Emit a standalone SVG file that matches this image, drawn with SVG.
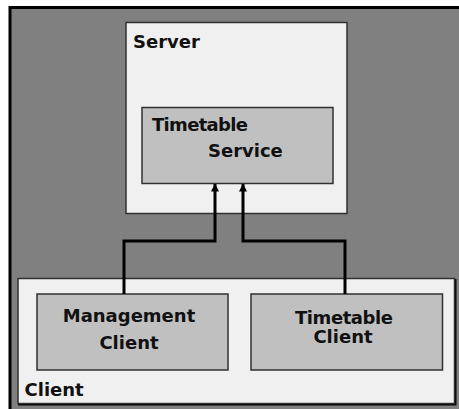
<svg xmlns="http://www.w3.org/2000/svg" width="459" height="409" viewBox="0 0 459 409">
  <defs>
    <style>
      .container { fill: #f0f0f0; stroke: #303030; stroke-width: 1.5; }
      .box { fill: #c0c0c0; stroke: #303030; stroke-width: 1.5; }
      .label { font-family: "DejaVu Sans", Verdana, sans-serif; font-weight: bold; font-size: 18px; fill: #111; }
      .mid { text-anchor: middle; }
      .conn { fill: none; stroke: #000; stroke-width: 3; }
    </style>
    <marker id="arrow" viewBox="0 0 8 8" refX="7.5" refY="4" markerUnits="userSpaceOnUse" markerWidth="8" markerHeight="8" orient="auto">
      <path d="M0,0 L8,4 L0,8 Z" fill="#000"/>
    </marker>
  </defs>
  <rect x="0" y="0" width="459" height="409" fill="#ffffff"/>
  <rect x="8.5" y="6" width="460" height="410" fill="#000"/>
  <rect x="11.5" y="9" width="460" height="410" fill="#808080"/>

  <g id="server">
    <rect class="container" x="126" y="22.5" width="221" height="191"/>
    <text class="label" x="133" y="48">Server</text>
  </g>
  <g id="timetable-service">
    <rect class="box" x="142" y="107.5" width="191" height="76"/>
    <text class="label" x="152" y="131" textLength="96">Timetable</text>
    <text class="label" x="208" y="157">Service</text>
  </g>
  <g id="client">
    <rect x="18" y="279" width="438.5" height="126.5" fill="#000"/>
    <rect class="container" x="18" y="278.5" width="436.5" height="125"/>
    <text class="label" x="24.5" y="396">Client</text>
  </g>
  <g id="management-client">
    <rect class="box" x="37" y="294" width="191" height="76"/>
    <text class="label mid" x="129" y="321.5">Management</text>
    <text class="label mid" x="129" y="349">Client</text>
  </g>
  <g id="timetable-client">
    <rect class="box" x="251" y="294" width="191.5" height="76"/>
    <text class="label mid" x="344" y="324" textLength="98">Timetable</text>
    <text class="label mid" x="343" y="343">Client</text>
  </g>

  <g id="connectors">
    <path class="conn" d="M124,294 V241 H215 V184" marker-end="url(#arrow)"/>
    <path class="conn" d="M345,294 V241 H243 V184" marker-end="url(#arrow)"/>
  </g>
</svg>
